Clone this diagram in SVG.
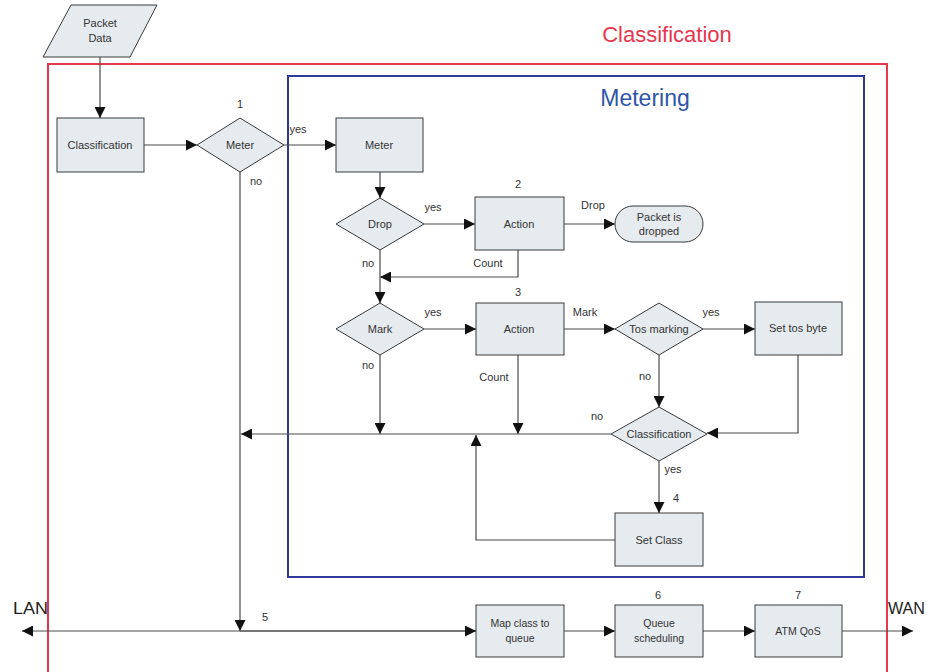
<svg xmlns="http://www.w3.org/2000/svg" width="929" height="672" viewBox="0 0 929 672">
  <style>
    .node { fill: #e6ebef; stroke: #3a3a3a; stroke-width: 1; }
    .lbl { font-family: "Liberation Sans", Arial, sans-serif; font-size: 11px; fill: #333; text-anchor: middle; }
    .small { font-size: 10.5px; }
    .port { font-family: "Liberation Sans", Arial, sans-serif; font-size: 17px; fill: #222; }
    .edge { fill: none; stroke: #4a4a4a; stroke-width: 1.2; }
    .title { font-family: "Liberation Sans", Arial, sans-serif; text-anchor: middle; }
  </style>
  <defs>
    <marker id="arrow" viewBox="0 0 10 10" refX="10" refY="5" markerWidth="15" markerHeight="11" markerUnits="userSpaceOnUse" orient="auto">
      <path d="M0,0 L10,5 L0,10 z" fill="#111"/>
    </marker>
  </defs>
  <rect width="929" height="672" fill="#fff"/>

  <!-- Outer classification region -->
  <g id="region-classification">
    <rect x="48" y="64" width="839" height="620" fill="none" stroke="#e8364f" stroke-width="2"/>
    <text class="title" x="667" y="42" font-size="22" fill="#e8364f">Classification</text>
  </g>

  <!-- Metering region -->
  <g id="region-metering">
    <rect x="288" y="76" width="576" height="501" fill="none" stroke="#2e3a96" stroke-width="2"/>
    <text class="title" x="645" y="106" font-size="23" fill="#2f56a8">Metering</text>
  </g>

  <!-- Connectors -->
  <g id="connectors">
    <path class="edge" d="M100,57 V118" marker-end="url(#arrow)"/>
    <path class="edge" d="M144,145 H197" marker-end="url(#arrow)"/>
    <path class="edge" d="M284,145 H336" marker-end="url(#arrow)"/>
    <path class="edge" d="M240,172 V631" marker-end="url(#arrow)"/>
    <path class="edge" d="M380,172 V198" marker-end="url(#arrow)"/>
    <path class="edge" d="M424,224 H475" marker-end="url(#arrow)"/>
    <path class="edge" d="M564,224 H615" marker-end="url(#arrow)"/>
    <path class="edge" d="M518,250 V277 H380" marker-end="url(#arrow)"/>
    <path class="edge" d="M380,250 V303" marker-end="url(#arrow)"/>
    <path class="edge" d="M424,329 H476" marker-end="url(#arrow)"/>
    <path class="edge" d="M564,329 H615" marker-end="url(#arrow)"/>
    <path class="edge" d="M703,329 H755" marker-end="url(#arrow)"/>
    <path class="edge" d="M659,355 V407" marker-end="url(#arrow)"/>
    <path class="edge" d="M798,355 V433 H707" marker-end="url(#arrow)"/>
    <path class="edge" d="M380,355 V434" marker-end="url(#arrow)"/>
    <path class="edge" d="M518,355 V434" marker-end="url(#arrow)"/>
    <path class="edge" d="M611,434 H241" marker-end="url(#arrow)"/>
    <path class="edge" d="M659,461 V513" marker-end="url(#arrow)"/>
    <path class="edge" d="M615,540 H476 V435" marker-end="url(#arrow)"/>
    <path class="edge" d="M476,631 H22" marker-end="url(#arrow)"/>
    <path class="edge" d="M240,631 H476" marker-end="url(#arrow)"/>
    <path class="edge" d="M564,631 H615" marker-end="url(#arrow)"/>
    <path class="edge" d="M703,631 H755" marker-end="url(#arrow)"/>
    <path class="edge" d="M842,631 H913" marker-end="url(#arrow)"/>

    <!-- connector labels -->
    <text class="lbl" x="298" y="133">yes</text>
    <text class="lbl" x="256" y="185">no</text>
    <text class="lbl" x="433" y="211">yes</text>
    <text class="lbl" x="593" y="209">Drop</text>
    <text class="lbl" x="488" y="267">Count</text>
    <text class="lbl" x="368" y="267">no</text>
    <text class="lbl" x="433" y="316">yes</text>
    <text class="lbl" x="585" y="316">Mark</text>
    <text class="lbl" x="711" y="316">yes</text>
    <text class="lbl" x="368" y="369">no</text>
    <text class="lbl" x="494" y="381">Count</text>
    <text class="lbl" x="645" y="380">no</text>
    <text class="lbl" x="597" y="420">no</text>
    <text class="lbl" x="673" y="473">yes</text>
    <text class="lbl" x="240" y="108">1</text>
    <text class="lbl" x="518" y="188">2</text>
    <text class="lbl" x="518" y="296">3</text>
    <text class="lbl" x="676" y="502">4</text>
    <text class="lbl" x="265" y="621">5</text>
    <text class="lbl" x="658" y="599">6</text>
    <text class="lbl" x="798" y="599">7</text>
    <text class="port" x="13" y="614" textLength="35" lengthAdjust="spacingAndGlyphs">LAN</text>
    <text class="port" x="888" y="614" textLength="37" lengthAdjust="spacingAndGlyphs">WAN</text>
  </g>

  <!-- Nodes -->
  <g id="packet-data">
    <polygon class="node" points="71,5 157,5 130,57 43,57"/>
    <text class="lbl" x="100" y="27">Packet</text>
    <text class="lbl" x="100" y="42">Data</text>
  </g>
  <g id="classification">
    <rect class="node" x="57" y="118" width="87" height="54"/>
    <text class="lbl" x="100" y="149">Classification</text>
  </g>
  <g id="meter-decision">
    <polygon class="node" points="197,145 240,118 284,145 240,172"/>
    <text class="lbl" x="240" y="149">Meter</text>
  </g>
  <g id="meter">
    <rect class="node" x="336" y="118" width="87" height="54"/>
    <text class="lbl" x="379" y="149">Meter</text>
  </g>
  <g id="drop-decision">
    <polygon class="node" points="336,224 380,198 424,224 380,250"/>
    <text class="lbl" x="380" y="228">Drop</text>
  </g>
  <g id="action-drop">
    <rect class="node" x="475" y="197" width="89" height="53"/>
    <text class="lbl" x="519" y="228">Action</text>
  </g>
  <g id="packet-dropped">
    <rect class="node" x="615" y="206" width="88" height="36" rx="18"/>
    <text class="lbl" x="659" y="221">Packet is</text>
    <text class="lbl" x="659" y="235">dropped</text>
  </g>
  <g id="mark-decision">
    <polygon class="node" points="336,329 380,303 424,329 380,355"/>
    <text class="lbl" x="380" y="333">Mark</text>
  </g>
  <g id="action-mark">
    <rect class="node" x="476" y="303" width="88" height="52"/>
    <text class="lbl" x="519" y="333">Action</text>
  </g>
  <g id="tos-marking">
    <polygon class="node" points="615,329 659,303 703,329 659,355"/>
    <text class="lbl" x="659" y="333">Tos marking</text>
  </g>
  <g id="set-tos-byte">
    <rect class="node" x="755" y="302" width="87" height="53"/>
    <text class="lbl" x="798" y="332">Set tos byte</text>
  </g>
  <g id="classification-decision">
    <polygon class="node" points="611,434 659,407 707,434 659,461"/>
    <text class="lbl" x="659" y="438">Classification</text>
  </g>
  <g id="set-class">
    <rect class="node" x="615" y="513" width="88" height="53"/>
    <text class="lbl" x="659" y="544">Set Class</text>
  </g>
  <g id="map-class">
    <rect class="node" x="476" y="605" width="88" height="52"/>
    <text class="lbl small" x="520" y="627">Map class to</text>
    <text class="lbl small" x="520" y="642">queue</text>
  </g>
  <g id="queue-scheduling">
    <rect class="node" x="615" y="605" width="88" height="52"/>
    <text class="lbl small" x="659" y="627">Queue</text>
    <text class="lbl small" x="659" y="642">scheduling</text>
  </g>
  <g id="atm-qos">
    <rect class="node" x="755" y="605" width="87" height="52"/>
    <text class="lbl small" x="798" y="635">ATM QoS</text>
  </g>
</svg>
